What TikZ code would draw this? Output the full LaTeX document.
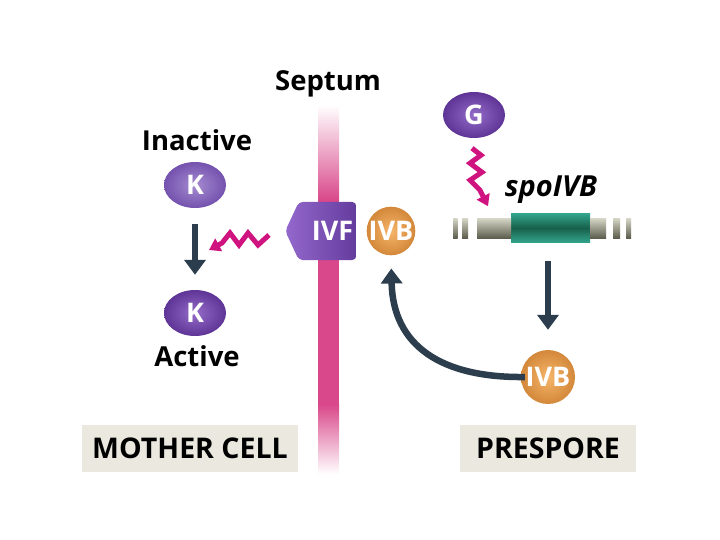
\documentclass[tikz,border=0pt]{standalone}
\usepackage{fontspec}
\setmainfont{Open Sans}
\usetikzlibrary{positioning}
\usetikzlibrary{arrows.meta}
\usetikzlibrary{shapes.geometric,shapes.symbols}
\definecolor{sep-pink}{HTML}{D9488A}
\definecolor{zig-pink}{HTML}{CF1480}
\definecolor{flow-dark}{HTML}{2C3D4D}
\definecolor{k-light}{HTML}{A58BD0}
\definecolor{k-dark}{HTML}{7452AE}
\definecolor{ka-light}{HTML}{946CC8}
\definecolor{ka-dark}{HTML}{5E3496}
\definecolor{ivb-light}{HTML}{F6B56A}
\definecolor{ivb-dark}{HTML}{D3883A}
\definecolor{ivf-light}{HTML}{9468CC}
\definecolor{ivf-dark}{HTML}{643C9E}
\definecolor{gene-light}{HTML}{D2D2C2}
\definecolor{gene-dark}{HTML}{5E5E4E}
\definecolor{green-light}{HTML}{33A58C}
\definecolor{green-dark}{HTML}{17604B}
\definecolor{box-grey}{HTML}{EBE9DF}

\begin{document}
\begin{tikzpicture}[
    x=1pt, y=-1pt,
    node distance=4pt,
    font=\bfseries\fontsize{27.5}{29}\selectfont,
    >={Triangle[width=21pt,length=15pt]}
  ]

  % Styles
  \tikzset{
    protein/.style={ellipse, minimum width=62pt, minimum height=46pt, inner sep=0pt, text=white, font=\bfseries\fontsize{27}{27}\selectfont},
    kinase/.style={protein, shading=radial, inner color=k-light, outer color=k-dark},
    kactive/.style={protein, shading=radial, inner color=ka-light, outer color=ka-dark},
    ivbball/.style={protein, circle, minimum size=#1, shading=radial, inner color=ivb-light, outer color=ivb-dark},
    flow/.style={->, flow-dark, line width=6.5pt},
    zig/.style={-{Triangle[width=14pt,length=11pt]}, zig-pink, line width=5pt, line join=miter},
    cellbox/.style={fill=box-grey, minimum width=#1, minimum height=47pt, inner sep=0pt, font=\bfseries\fontsize{28.5}{30}\selectfont},
    genepiece/.style={top color=gene-light, bottom color=gene-dark}
  }

  \useasboundingbox (0,0) rectangle (720,540);

  % Septum, fading at both ends
  \shade[top color=white, bottom color=sep-pink] (318,105) rectangle (339,200.5);
  \fill[sep-pink] (318,200) rectangle (339,405);
  \shade[top color=sep-pink, bottom color=white] (318,404.5) rectangle (339,474);
  \node (septum) at (328,84) {Septum};

  % Mother cell side
  \node (kin) [kinase] at (195,185) {K};
  \node (inactive) at (197,140) {Inactive};
  \node (kact) [kactive] at (195,313) {K};
  \node (active) at (197,356) {Active};
  \draw[flow, shorten <=16pt, shorten >=15pt] (kin.south) -- (kact.north);

  % IVF / IVB at the septum
  \node (ivf) [signal, signal to=west, signal pointer angle=130, rounded corners=4pt,
               minimum width=71pt, minimum height=58pt, inner sep=0pt,
               left color=ivf-light, right color=ivf-dark, text=white,
               font=\bfseries\fontsize{27}{27}\selectfont] at (327.5,231) {\hspace{10pt}IVF};
  \node (ivb1) [ivbball=48pt] at (391,231) {IVB};

  % signal towards the mother cell
  \draw[zig] ([xshift=-16pt,yshift=-4pt]ivf.west) -- ++(-11,10) -- ++(-10,-12) -- ++(-9,12)
             -- ++(-9,-12) -- ++(-8,10) -- ++(-13,7);

  % Prespore side
  \node (g) [kactive] at (474,115) {G};
  \node (gene) [top color=green-light, bottom color=green-light, middle color=green-dark,
                minimum width=79pt, minimum height=29pt, inner sep=0pt] at (550.5,228) {};
  \shade[genepiece] (453,219) rectangle (457.5,238);
  \shade[genepiece] (462,219) rectangle (468,238);
  \shade[genepiece] (477,219) rectangle (511,238);
  \shade[genepiece] (590,219) rectangle (606,238);
  \shade[genepiece] (613,219) rectangle (620,238);
  \shade[genepiece] (626,219) rectangle (631,238);
  \node (spoivb) [font=\bfseries\itshape\fontsize{29}{30}\selectfont] at (551,190) {spoIVB};

  \draw[zig] ([xshift=-2pt,yshift=-10pt]g.south) -- ++(9,7) -- ++(-11,8) -- ++(12,9)
             -- ++(-12,8) -- ++(10,10) -- ++(8,16);

  \node (ivb2) [ivbball=54pt] at (548,377) {IVB};
  \draw[flow, shorten <=18pt, shorten >=20pt] (ivb2 |- gene.south) -- (ivb2.north);
  \draw[flow, shorten >=13pt] ([xshift=4pt]ivb2.west) .. controls (440,378) and (393,345) .. (ivb1.south);

  % Compartment labels
  \node (mother) [cellbox=216pt] at (190,448.5) {MOTHER CELL};
  \node (prespore) [cellbox=176pt] at (548,448.5) {PRESPORE};

\end{tikzpicture}
\end{document}
